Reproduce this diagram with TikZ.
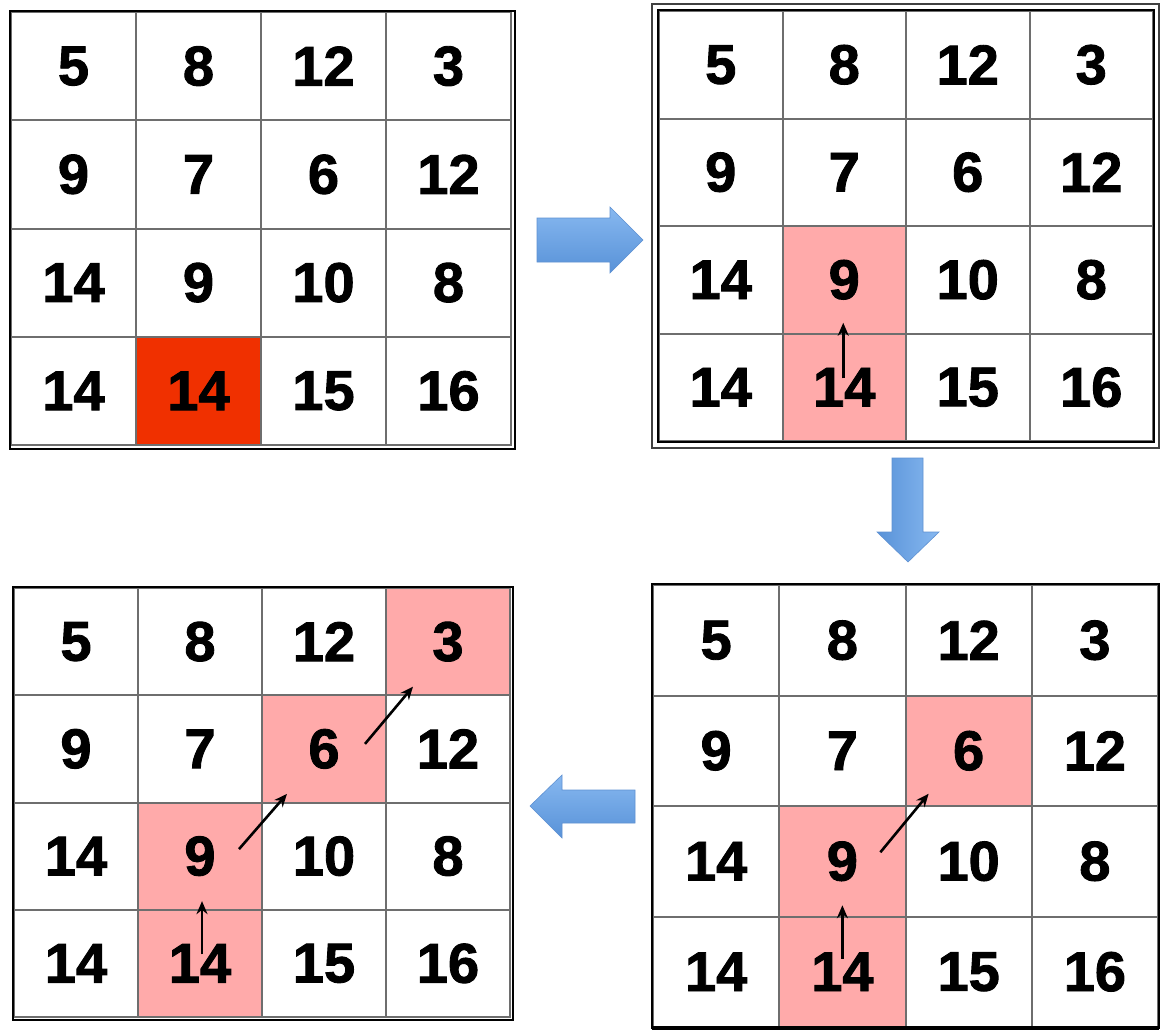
\documentclass[tikz,border=0pt]{standalone}
\usepackage{fontspec}
\setmainfont{Liberation Sans}[BoldFeatures={FakeBold=1.6}]
\usetikzlibrary{calc,arrows.meta}
\pgfdeclarelayer{bg}
\pgfsetlayers{bg,main}
\definecolor{gridline}{RGB}{110,110,110}
\definecolor{hlpink}{RGB}{255,170,170}
\definecolor{hlred}{RGB}{240,48,0}
\definecolor{arrtop}{RGB}{135,184,240}
\definecolor{arrbot}{RGB}{88,146,216}
\definecolor{arredge}{RGB}{95,145,210}
\tikzset{
  cell/.style={draw=gridline, line width=2pt, inner sep=0pt,
    font=\fontsize{56}{60}\selectfont\bfseries, text=black},
  frame/.style={draw=black, line width=2.5pt},
  movearrow/.style={-{Stealth[length=13pt,width=11pt]}, line width=2.6pt, black},
  blockarrow/.style={draw=arredge, line width=0.6pt},
}
\newcommand\makegrid[5]{%
  \pgfmathsetmacro\cw{(#4-#2)/4}%
  \pgfmathsetmacro\ch{(#5-#3)/4}%
  \foreach \row [count=\r] in {{5,8,12,3},{9,7,6,12},{14,9,10,8},{14,14,15,16}} {
    \foreach \v [count=\c] in \row {
      \node[cell, minimum width=\cw pt, minimum height=\ch pt] (#1-\r-\c)
        at ({#2+(\c-0.5)*\cw},{#3+(\r-0.5)*\ch}) {\v};
    }
  }%
}
\begin{document}
\begin{tikzpicture}[x=1pt,y=-1pt]
\useasboundingbox (0,0) rectangle (1168,1036);

% grids
\makegrid{tl}{11}{12}{511}{445}
\makegrid{tr}{659}{11}{1153}{441}
\makegrid{br}{653}{585}{1158}{1027}
\makegrid{bl}{14}{588}{510}{1017}

% highlights and background
\begin{pgfonlayer}{bg}
  \fill[white] (0,0) rectangle (1168,1036);
  \fill[hlred] (tl-4-2.north west) rectangle (tl-4-2.south east);
  \foreach \n in {tr-3-2,tr-4-2,br-2-3,br-3-2,br-4-2,bl-1-4,bl-2-3,bl-3-2,bl-4-2}
    \fill[hlpink] (\n.north west) rectangle (\n.south east);
\end{pgfonlayer}

% frames
\draw[frame] (tl-1-1.north west) rectangle ($(tl-4-4.south east)+(3,3)$);
\draw[frame, line width=2pt] (tr-1-1.north west) rectangle (tr-4-4.south east);
\draw[draw=black!75, line width=2.5pt] ($(tr-1-1.north west)+(-6,-6)$) rectangle ($(tr-4-4.south east)+(5,6)$);
\draw[frame] (br-1-1.north west) rectangle (br-4-4.south east);
\draw[black, line width=4pt] (br-4-1.south west) -- (br-4-4.south east);
\draw[frame] (bl-1-1.north west) rectangle ($(bl-4-4.south east)+(2,2)$);

% movement arrows
\draw[movearrow] ($(tr-4-2.center)+(-1,-9)$) -- ($(tr-3-2.center)+(-1,43)$);
\draw[movearrow] ($(br-4-2.center)+(0,-13)$) -- ($(br-3-2.center)+(0,44)$);
\draw[movearrow] ($(br-3-2.center)+(38,-9)$) -- ($(br-2-3.center)+(-40,43)$);
\draw[movearrow] ($(bl-4-2.center)+(2,-9)$) -- ($(bl-3-2.center)+(2,45)$);
\draw[movearrow] ($(bl-3-2.center)+(39,-7)$) -- ($(bl-2-3.center)+(-37,45)$);
\draw[movearrow] ($(bl-2-3.center)+(41,-5)$) -- ($(bl-1-4.center)+(-35,45)$);

% blue block arrows
\draw[blockarrow, top color=arrtop, bottom color=arrbot]
  (537,218) -- (610,218) -- (610,207) -- (643,240) -- (610,273) -- (610,262) -- (537,262) -- cycle;
\draw[blockarrow, left color=arrbot, right color=arrtop]
  (892,458) -- (923,458) -- (923,532) -- (939,532) -- (908,562) -- (877,532) -- (892,532) -- cycle;
\draw[blockarrow, top color=arrtop, bottom color=arrbot]
  (635,790) -- (562,790) -- (562,775) -- (530,806) -- (562,838) -- (562,823) -- (635,823) -- cycle;
\end{tikzpicture}
\end{document}
